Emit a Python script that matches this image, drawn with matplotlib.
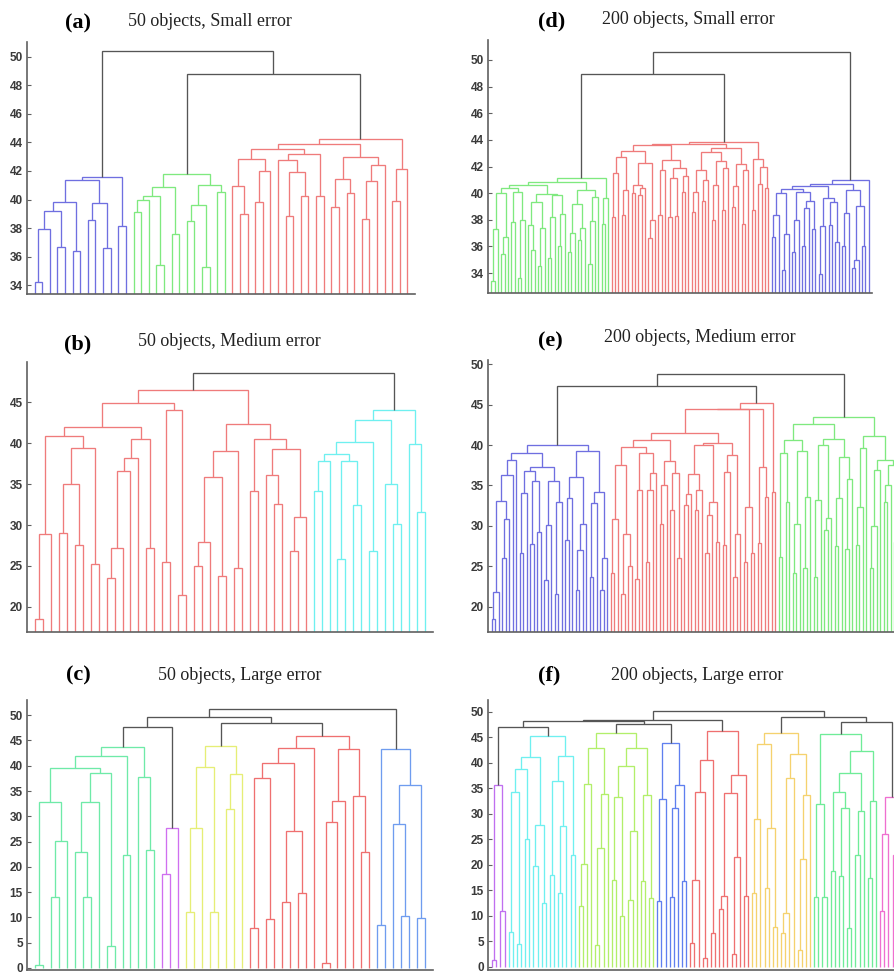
"""
Six dendrograms (50 / 200 objects, small / medium / large error).
Trees are written as nested strings: "(left,right)height", "x" is a leaf,
any other name points to another entry of the same panel dict.
"""
import re
import matplotlib
matplotlib.use("Agg")
import matplotlib.pyplot as plt

GRAY = "#555555"

# ---------------- (a) 50 objects, small error ----------------
A_TREE = {
    "root": "(blue,(green,red)48.8)50.4",
    "blue": "((((((x,x)34.2,x)37.95,(x,x)36.7)39.2,(x,x)36.4)39.8,((x,x)38.55,(x,x)36.6)39.75)41.35,(x,x)38.15)41.6",
    "green": "(((((x,x)39.1,x)39.96,(x,x)35.4)40.24,(x,x)37.6)40.9,(((x,x)38.5,(x,x)35.24)39.6,(x,x)40.5)41.0)41.77",
    "red": "(((red1,red2)43.57,red3)43.9,((x,x)39.87,x)42.12)44.22",
    "red1": "((x,(x,x)39.0)40.97,((x,x)39.82,x)42.0)42.87",
    "red2": "((x,((x,x)38.85,(x,x)40.25)41.93)42.77,(x,x)40.25)43.2",
    "red3": "(((x,x)39.45,(x,x)40.43)41.43,(((x,x)38.63,x)41.3,x)42.4)42.96",
}
A_COLORS = {"blue": "#6f6fe0", "green": "#7fe97f", "red": "#ef7b7b"}
A_TICKS = list(range(34, 51, 2))

# ---------------- (b) 50 objects, medium error ----------------
B_TREE = {
    "root": "(red,cyan)48.5",
    "red": "(redL,redR)46.5",
    "redL": "((redLL,redLM)41.9,((x,x)25.53,(x,x)21.5)44.0)44.9",
    "redLL": "(((x,x)18.5,x)28.9,(((x,x)29.06,(x,x)27.6)34.94,(x,x)25.3)39.4)40.8",
    "redLM": "(((((x,x)23.55,x)27.24,x)36.57,x)38.2,(x,x)27.16)40.5",
    "redR": "(redRa,redRb)42.3",
    "redRa": "((((x,x)25.05,x)27.93,(x,x)23.83)35.9,(x,x)24.7)39.08",
    "redRb": "((x,x)34.13,((x,(x,x)32.55)36.08,((x,x)26.87,x)31.0)39.32)40.5",
    "cyan": "(c3,(x,(x,x)31.6)39.9)44.0",
    "c3": "(c2,(x,(x,x)30.1)35.0)42.77",
    "c2": "(c1,(x,x)26.87)40.1",
    "c1": "(((x,x)34.13,x)37.78,((x,x)25.86,(x,x)32.4)37.78)38.7",
}
B_COLORS = {"red": "#ef7b7b", "cyan": "#6ff0f0"}
B_TICKS = list(range(20, 46, 5))

# ---------------- (c) 50 objects, large error ----------------
C_TREE = {
    "root": "(((green,violet)47.67,(yellow,red)48.47)49.66,blue)51.26",
    "green": "(((g1,g2)39.5,(x,x)22.37)41.96,(x,(x,x)23.37)37.84)43.8",
    "g1": "((x,x)0.66,((x,x)14.07,x)25.2)32.86",
    "g2": "(((x,(x,x)14.07)22.97,x)32.86,(x,x)4.3)38.64",
    "violet": "((x,x)18.6,x)27.6",
    "yellow": "((((x,x)11.1,x)27.68,(x,x)11.1)39.7,((x,x)31.5,x)38.37)43.95",
    "red": "(r1,r2)45.95",
    "r1": "((((x,x)7.96,(x,x)9.6)37.5,((x,x)13.1,(x,x)14.8)27.09)40.5,x)43.49",
    "r2": "((((x,x)0.99,x)28.9,x)33.0,(x,(x,x)22.84)34.0)43.35",
    "blue": "((x,x)8.43,((x,(x,x)10.3)28.5,(x,x)9.95)36.2)43.3",
}
C_COLORS = {"green": "#6feaa8", "violet": "#cf6ff0", "yellow": "#e6ee76",
            "red": "#ef7070", "blue": "#6f9cef"}
C_TICKS = list(range(0, 51, 5))

# ---------------- (d) 200 objects, small error ----------------
D_TREE = {
    "root": "((green,red)48.95,blue)50.6",
    "green": "(((G12,G34)40.6,G56)40.8,G7)41.1",
    "G12": "(G1,G2)40.36",
    "G1": "(((x,x)33.4,x)37.3,((x,x)35.4,x)36.7)40.0",
    "G2": "((x,x)37.8,((x,x)33.6,x)38.0)40.1",
    "G34": "(G3,G4)39.95",
    "G3": "((x,(x,x)35.7)37.6,((x,x)34.5,x)37.4)39.3",
    "G4": "(((x,x)35.1,x)38.2,((x,x)36.0,x)38.4)39.85",
    "G56": "(G5,G6)40.2",
    "G5": "(((x,x)35.6,x)37.0,((x,x)36.5,x)37.4)39.2",
    "G6": "(((x,x)34.7,x)37.9,x)39.7",
    "G7": "((x,x)37.7,x)39.6",
    "red": "((R123,(R4,R5a)43.4)43.7,R5b)43.86",
    "R123": "((R1,R2)43.2,R3)43.6",
    "R1": "(((x,x)38.2,x)41.5,((x,x)38.35,x)40.2)42.7",
    "R2": "(((x,x)40.0,((x,x)39.85,x)40.4)40.6,((x,x)36.6,x)38.0)42.3",
    "R3": "(((x,x)38.35,x)41.7,(((x,x)38.2,(x,x)38.3)41.1,((x,x)40.1,x)41.3)41.9)42.5",
    "R4": "((((x,x)38.6,x)40.1,((x,x)39.4,x)41.0)41.7,(((x,x)38.0,x)40.6,((x,x)38.7,x)41.9)42.4)43.1",
    "R5a": "(((x,x)38.98,x)40.5,((x,x)37.7,x)41.7)42.2",
    "R5b": "((x,x)38.7,((x,x)40.7,(x,x)40.36)42.0)42.6",
    "blue": "((((B1,B2)40.3,B3)40.5,B4)40.7,x)41.0",
    "B1": "(((x,x)36.7,x)38.35,((x,x)34.2,x)36.9)40.0",
    "B2": "(((x,x)35.6,x)38.0,(((x,x)36.0,x)38.9,(x,x)37.3)39.4)40.1",
    "B3": "(((x,x)33.9,x)37.5,((x,x)37.6,(x,x)36.3)39.3)39.6",
    "B4": "(((x,x)36.0,x)38.5,(((x,x)34.35,x)35.0,(x,x)36.0)39.0)40.2",
}
D_COLORS = {"green": "#7fe97f", "red": "#ef7b7b", "blue": "#6f6fe0"}
D_TICKS = list(range(34, 51, 2))

# ---------------- (e) 200 objects, medium error ----------------
E_TREE = {
    "root": "((blue,red)47.3,green)48.75",
    "blue": "(BLa,BR)40.0",
    "BLa": "((BL1,x)38.2,BL2)38.97",
    "BL1": "((((x,x)18.5,x)21.9,((x,x)26.0,x)30.9)33.1,x)36.3",
    "BL2": "((((x,x)26.7,x)34.1,((x,x)27.8,(x,x)29.2)35.5)36.8,(((x,x)23.3,x)30.1,((x,x)21.6,x)33.0)35.5)37.3",
    "BR": "((((x,x)28.3,x)33.5,(((x,x)22.1,x)27.0,x)30.2)36.1,(((x,x)23.7,x)32.8,((x,x)22.1,x)26.0)34.2)39.2",
    "red": "(((RL,((x,x)25.6,(x,x)26.7)32.4)44.4,((x,x)27.9,(x,x)33.6)37.3)44.5,(x,x)34.2)45.2",
    "RL": "(RABC,RDE)41.5",
    "RABC": "((RA,RB)39.7,RC)40.6",
    "RA": "(((x,x)24.2,x)30.8,((x,x)21.6,(x,x)25.0)29.0)37.5",
    "RB": "(((x,x)23.4,x)34.4,(((x,x)25.5,x)34.5,x)36.6)39.05",
    "RC": "(((x,x)30.3,x)35.0,((x,x)31.97,(x,x)26.0)36.5)38.0",
    "RDE": "(RD,RE)40.3",
    "RD": "((((x,x)32.6,x)34.0,((x,x)32.0,x)34.5)36.4,(((x,x)26.6,x)31.4,(x,x)28.0)33.0)40.0",
    "RE": "(((x,x)27.6,x)36.7,((x,x)23.7,x)29.0)38.8",
    "green": "(Gl,GC)43.4",
    "Gl": "(GA,GB)42.6",
    "GA": "(((x,x)26.2,(x,x)33.0)39.05,(((x,x)24.2,x)30.3,((x,x)24.8,x)33.6)39.3)40.6",
    "GB": "((((x,x)23.7,x)33.2,((x,x)29.5,x)31.0)40.0,(((x,x)27.5,x)33.5,((x,x)27.1,x)35.8)38.5)40.7",
    "GC": "((((x,x)27.6,x)32.4,x)39.6,((((x,x)24.8,x)30.0,x)36.9,(((x,x)33.0,x)35.0,((x,x)28.0,x)31.5)37.5)38.2)41.1",
}
E_COLORS = {"blue": "#6f6fe0", "red": "#ef7b7b", "green": "#7fe97f"}
E_TICKS = list(range(20, 51, 5))

# ---------------- (f) 200 objects, large error ----------------
F_TREE = {
    "root": "((((violet,cyan)47.0,(yg,blue)47.65)48.2,red)48.5,(orange,(green,magenta)48.05)48.96)50.27",
    "violet": "((x,x)1.45,(x,x)10.9)35.6",
    "cyan": "(cyL,cyR)45.2",
    "cyL": "((((x,x)6.9,(x,x)4.5)34.3,(x,x)25.0)38.75,((x,x)19.7,(x,x)12.55)27.9)41.1",
    "cyR": "(((x,x)18.1,((x,x)14.5,x)27.7)36.5,(x,x)21.9)41.3",
    "yg": "(ygL,ygR)45.9",
    "ygL": "((((x,x)11.9,x)20.1,x)35.9,(((x,x)4.4,x)23.3,x)33.9)43.0",
    "ygR": "((((x,x)17.1,(x,x)10.0)33.3,((x,x)13.2,x)26.7)39.4,((x,x)16.8,(x,x)13.5)33.7)42.9",
    "blue": "(((x,x)12.9,x)33.0,(((x,x)13.7,x)31.2,(x,x)16.9)35.6)43.9",
    "red": "(redL,redR)46.2",
    "redL": "((((x,x)4.7,x)17.1,(x,x)1.8)34.3,(x,x)6.7)40.6",
    "redR": "((((x,x)11.4,x)14.0,((x,x)2.6,x)21.5)34.2,(x,x)13.9)37.6",
    "orange": "(orL,orR)45.9",
    "orL": "(((x,x)14.5,x)29.0,((x,x)15.5,(x,x)7.8)27.3)43.7",
    "orR": "((((x,x)6.7,x)10.6,x)37.0,(((x,x)3.4,x)21.1,x)33.7)41.8",
    "green": "(((x,x)13.7,(x,x)13.7)32.0,((((x,x)18.9,((x,x)17.8,(x,x)7.6)31.2)34.3,((x,x)22.0,x)30.5)38.0,((x,x)17.5,x)32.5)42.3)45.6",
    "magenta": "(((x,x)10.9,x)26.0,((x,x)22.0,x)27.0)33.3",
}
F_COLORS = {"violet": "#c06ff0", "cyan": "#6ff0f0", "yg": "#b2ef6a", "blue": "#5f7fef",
            "red": "#ef7070", "orange": "#f5d26e", "green": "#6fec98", "magenta": "#ef6fd0"}
F_TICKS = list(range(0, 51, 5))


def parse(parts, colors, name="root", color=GRAY):
    s = parts[name].replace(" ", "")
    pos = 0

    def node(col):
        nonlocal pos
        if s[pos] == "(":
            pos += 1
            a = node(col)
            pos += 1          # ','
            b = node(col)
            pos += 1          # ')'
            h = re.match(r"[0-9.]+", s[pos:]).group()
            pos += len(h)
            return (float(h), [a, b], col)
        ident = re.match(r"[A-Za-z_]\w*", s[pos:]).group()
        pos += len(ident)
        if ident == "x":
            return (0.0, [], col)
        return parse(parts, colors, ident, colors.get(ident, col))

    return node(color)


def draw(ax, tree, lw=0.95):
    n = [0]

    def place(t):
        h, kids, col = t
        if not kids:
            n[0] += 1
            return n[0], h
        (x1, h1), (x2, h2) = [place(k) for k in kids]
        ax.plot([x1, x1, x2, x2], [h1, h, h, h2], color=col, lw=lw,
                solid_capstyle="butt", solid_joinstyle="miter")
        return (x1 + x2) / 2, h

    place(tree)
    return n[0]


W, H = 894, 975
fig = plt.figure(figsize=(W / 100, H / 100), dpi=100)

# tree, colours, ticks, ylim, axes box in px (left, top, right, bottom), tag, title, tag xy, title xy
PANELS = [
    (A_TREE, A_COLORS, A_TICKS, (33.37, 51.05), (27, 42, 415, 294), "(a)", "50 objects, Small error", (78, 23), (210, 21)),
    (B_TREE, B_COLORS, B_TICKS, (16.95, 49.88), (27, 362, 433, 632), "(b)", "50 objects, Medium error", (78, 344), (229, 342)),
    (C_TREE, C_COLORS, C_TICKS, (-0.4, 53.0), (27, 700, 433, 970), "(c)", "50 objects, Large error", (78, 675), (240, 675)),
    (D_TREE, D_COLORS, D_TICKS, (32.5, 51.5), (488, 40, 872, 293), "(d)", "200 objects, Small error", (552, 21), (688, 19)),
    (E_TREE, E_COLORS, E_TICKS, (16.9, 50.5), (488, 360, 904.5, 632), "(e)", "200 objects, Medium error", (550, 341), (700, 338)),
    (F_TREE, F_COLORS, F_TICKS, (-0.6, 52.35), (488, 700, 905, 970), "(f)", "200 objects, Large error", (549, 675), (697, 675)),
]

for tree, cols, ticks, ylim, (l, t, r, b), tag, title, tag_xy, title_xy in PANELS:
    ax = fig.add_axes([l / W, 1 - b / H, (r - l) / W, (b - t) / H])
    n = draw(ax, parse(tree, cols))
    ax.set_xlim(0, n + 1)
    ax.set_ylim(*ylim)
    ax.set_xticks([])
    ax.set_yticks(ticks)
    for side in ("top", "right"):
        ax.spines[side].set_visible(False)
    for side in ("left", "bottom"):
        ax.spines[side].set_color("#606060")
        ax.spines[side].set_linewidth(1.2)
    ax.tick_params(axis="y", direction="in", length=3, color="#606060", pad=3,
                   labelsize=8.5, labelcolor="#3a3a3a")
    for lab in ax.get_yticklabels():
        lab.set_fontweight("bold")
        lab.set_family("Liberation Sans")
    ax.patch.set_alpha(0)
    fig.text(tag_xy[0] / W, 1 - tag_xy[1] / H, tag, ha="center", va="center",
             family="Liberation Serif", fontweight="bold", fontsize=16)
    fig.text(title_xy[0] / W, 1 - title_xy[1] / H, title, ha="center", va="center",
             family="Liberation Serif", fontsize=13, color="#222222")

fig.savefig("out.png", dpi=100)
